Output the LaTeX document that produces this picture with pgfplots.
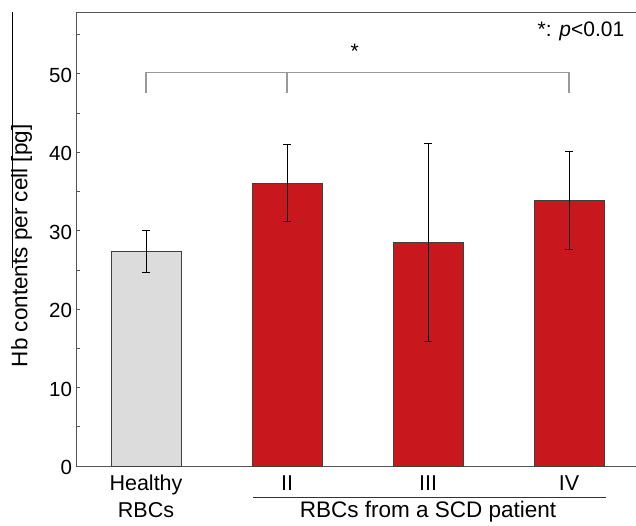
\documentclass[border=0pt]{standalone}
\usepackage{pgfplots}
\pgfplotsset{compat=1.18}
\usepackage{fontspec}
\setmainfont{Liberation Sans}
\definecolor{barred}{HTML}{C8181D}
\definecolor{bargray}{HTML}{DCDCDC}
\definecolor{axgray}{HTML}{555555}
\definecolor{brgray}{HTML}{999999}
\begin{document}
\begin{tikzpicture}
\begin{axis}[
  scale only axis, width=560pt, height=454pt,
  xmin=-0.4965, xmax=3.475, ymin=0, ymax=57.9,
  axis x line*=box, axis y line*=left,
  axis line style={-, draw=axgray, line width=0.9pt},
  xtick={0,1,2,3}, xticklabels={Healthy,II,III,IV},
  xticklabel style={anchor=base, yshift=-25pt, font=\fontsize{21.5}{26}\selectfont},
  x tick style={draw=none},
  ytick={0,10,20,30,40,50}, minor ytick={5,15,25,35,45,55},
  y tick style={axgray, line width=0.9pt},
  major tick length=4pt, minor tick length=4pt,
  ytick align=inside,
  yticklabel style={font=\fontsize{20.5}{24}\selectfont, xshift=-0.5pt, yshift=-1.5pt},
  /pgf/number format/assume math mode=true,
  ylabel={Hb contents per cell [pg]},
  ylabel style={at={(rel axis cs:-0.097,0.485)}, anchor=center, font=\fontsize{22.5}{26}\selectfont},
  clip=false,
]
\addplot[ybar, bar width=70pt, fill=bargray, draw=black!75, line width=0.9pt,
  error bars/.cd, y dir=both, y explicit,
  error bar style={black, line width=0.8pt},
  error mark options={rotate=90, mark size=4pt, line width=0.8pt, black}]
  coordinates {(0,27.4) +- (0,2.7)};
\addplot[ybar, bar width=70pt, fill=barred, draw=black!75, line width=0.9pt,
  error bars/.cd, y dir=both, y explicit,
  error bar style={black, line width=0.8pt},
  error mark options={rotate=90, mark size=4pt, line width=0.8pt, black}]
  coordinates {(1,36.05) +- (0,4.9) (2,28.5) +- (0,12.6) (3,33.9) +- (0,6.25)};
% significance bracket
\draw[brgray, line width=1.3pt] (axis cs:0,47.6) -- (axis cs:0,50.2) -- (axis cs:3,50.2) -- (axis cs:3,47.6);
\draw[brgray, line width=1.3pt] (axis cs:1,50.2) -- (axis cs:1,47.6);
\node[font=\fontsize{21}{24}\selectfont] at (axis cs:1.48,52.9) {*};
\node[font=\fontsize{21}{24}\selectfont] at (axis cs:3.085,55.4) {*: \textit{p}<0.01};
% category labels
\node[anchor=base, font=\fontsize{21.5}{26}\selectfont] at (axis cs:0,-6.6) {RBCs};
\draw[black!80, line width=0.9pt] (axis cs:0.759,-3.95) -- (axis cs:3.262,-3.95);
\node[anchor=base, font=\fontsize{22.5}{26}\selectfont] at (axis cs:2,-6.6) {RBCs from a SCD patient};
% stray edge line at left
\draw[black, line width=1pt] (rel axis cs:-0.1125,1) -- (rel axis cs:-0.1125,0.436);
\end{axis}
\pgfresetboundingbox
\path ([xshift=-76pt,yshift=-60pt]current axis.south west) rectangle ([yshift=12pt]current axis.north east);
\end{tikzpicture}
\end{document}
